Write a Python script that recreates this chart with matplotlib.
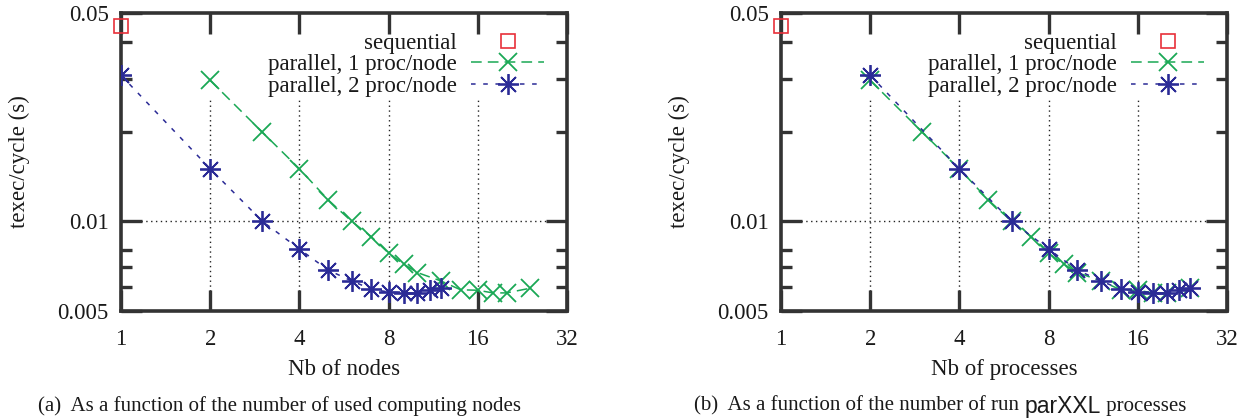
import matplotlib
matplotlib.use("Agg")
import matplotlib.pyplot as plt
from matplotlib.ticker import FixedLocator, NullFormatter, FixedFormatter

# ---------------- data ----------------
seq_x = [1]
seq_y = [0.0453]

# (a) as a function of nodes
nodes_1ppn = [2, 3, 4, 5, 6, 7, 8, 9, 10, 12, 14, 16, 18, 20, 24]
time_1ppn = [0.0297, 0.0199, 0.0150, 0.0118, 0.0100, 0.00887, 0.00782, 0.00718,
             0.00673, 0.00631, 0.00589, 0.00587, 0.00575, 0.00575, 0.00596]
nodes_2ppn = [1, 2, 3, 4, 5, 6, 7, 8, 9, 10, 11, 12]
time_2ppn = [0.0309, 0.0150, 0.0100, 0.00807, 0.00686, 0.00631, 0.00592,
             0.00579, 0.00575, 0.00575, 0.00587, 0.00596]
# (b) as a function of processes
procs_1ppn = nodes_1ppn
procs_2ppn = [2 * n for n in nodes_2ppn]

xticks = [1, 2, 4, 8, 16, 32]
ytick_major = [0.005, 0.01, 0.05]
ytick_major_labels = ["0.005", "0.01", "0.05"]
ytick_minor = [0.006, 0.007, 0.008, 0.02, 0.03, 0.04]
grid_x = [2, 4, 8, 16]
grid_y = [0.01]

xlabels = ["Nb of nodes", "Nb of processes"]
legend_labels = ["sequential", "parallel, 1 proc/node", "parallel, 2 proc/node"]

RED = "#e8303a"
GREEN = "#1aa855"
BLUE = "#2b2b96"
FRAME = "#333333"
TXT = "#1a1a1a"

plt.rcParams["font.family"] = ["Liberation Serif", "DejaVu Serif"]

W, H = 1247, 420
fig = plt.figure(figsize=(W / 100, H / 100), dpi=100)

def px_axes(left, top, right, bottom):
    return [left / W, 1 - bottom / H, (right - left) / W, (bottom - top) / H]

axes_specs = [
    (px_axes(121, 13, 567, 311), nodes_1ppn, nodes_2ppn, xlabels[0]),
    (px_axes(781, 13, 1227, 311), procs_1ppn, procs_2ppn, xlabels[1]),
]

star = (8, 2, 0)
FS = 16.5

for rect, x1, x2, xl in axes_specs:
    ax = fig.add_axes(rect)
    ax.set_xscale("log", base=2)
    ax.set_yscale("log")
    ax.set_xlim(1, 32)
    ax.set_ylim(0.005, 0.05)

    # grid (gnuplot style, stops short of the ticks / key)
    for gx in grid_x:
        ax.axvline(gx, ymin=0.05, ymax=0.718, color="#222222", lw=1.0,
                   ls=(0, (1, 2.5)), zorder=1)
    for gy in grid_y:
        ax.axhline(gy, xmin=0.034, xmax=0.966, color="#222222", lw=1.0,
                   ls=(0, (1, 2.5)), zorder=1)

    h0, = ax.plot(seq_x, seq_y, ls="none", marker="s", ms=10, mfc="none",
                  mec=RED, mew=1.2, clip_on=False, zorder=3)
    h1, = ax.plot(x1, time_1ppn, color=GREEN, lw=1.1, ls=(0, (7, 4)),
                  marker="x", ms=13, mew=1.3, zorder=3)
    h2, = ax.plot(x2, time_2ppn, color=BLUE, lw=1.1, ls=(0, (3, 5)),
                  marker=star, ms=15, mew=1.3, zorder=4)

    ax.xaxis.set_major_locator(FixedLocator(xticks))
    ax.xaxis.set_major_formatter(FixedFormatter([str(t) for t in xticks]))
    ax.xaxis.set_minor_locator(FixedLocator([]))
    ax.yaxis.set_major_locator(FixedLocator(ytick_major))
    ax.yaxis.set_major_formatter(FixedFormatter(ytick_major_labels))
    ax.yaxis.set_minor_locator(FixedLocator(ytick_minor))
    ax.yaxis.set_minor_formatter(NullFormatter())

    ax.tick_params(which="major", direction="in", length=15, width=2.4,
                   color=FRAME, labelsize=FS, top=True, right=True,
                   labelcolor=TXT)
    ax.tick_params(which="minor", direction="in", length=8, width=2.4,
                   color=FRAME, left=True, right=True)
    ax.tick_params(axis="x", which="major", pad=13)
    ax.tick_params(axis="y", which="major", pad=9)
    for s in ax.spines.values():
        s.set_linewidth(2.6)
        s.set_color(FRAME)

    ax.set_ylabel("texec/cycle (s)", fontsize=FS, color=TXT)
    ax.yaxis.set_label_coords(-0.204, 0.5)
    ax.set_xlabel(xl, fontsize=FS, color=TXT)
    ax.xaxis.set_label_coords(0.5, -0.162)

    leg = ax.legend([h0, h1, h2], legend_labels, loc="upper right",
                    bbox_to_anchor=(0.985, 0.987), markerfirst=False,
                    frameon=False, fontsize=FS, handlelength=3.2,
                    handletextpad=0.6, labelspacing=0.02, borderpad=0.2,
                    labelcolor=TXT)

CAP_FS = 15
ycap = 1 - 406 / H
fig.text(280 / W, ycap,
         "(a)  As a function of the number of used computing nodes",
         ha="center", va="center", fontsize=CAP_FS, color=TXT)

# caption (b) with sans-serif "parXXL"
t1 = fig.text(694 / W, ycap, "(b)  As a function of the number of run ",
              ha="left", va="center", fontsize=CAP_FS, color=TXT)
fig.canvas.draw()
bb = t1.get_window_extent()
t2 = fig.text(bb.x1 / W, ycap, "parXXL",
              ha="left", va="center", fontsize=16.5, color=TXT,
              family=["Liberation Sans", "DejaVu Sans"])
fig.canvas.draw()
bb2 = t2.get_window_extent()
fig.text(bb2.x1 / W, ycap, " processes",
         ha="left", va="center", fontsize=CAP_FS, color=TXT)

fig.savefig("out.png", dpi=100)
